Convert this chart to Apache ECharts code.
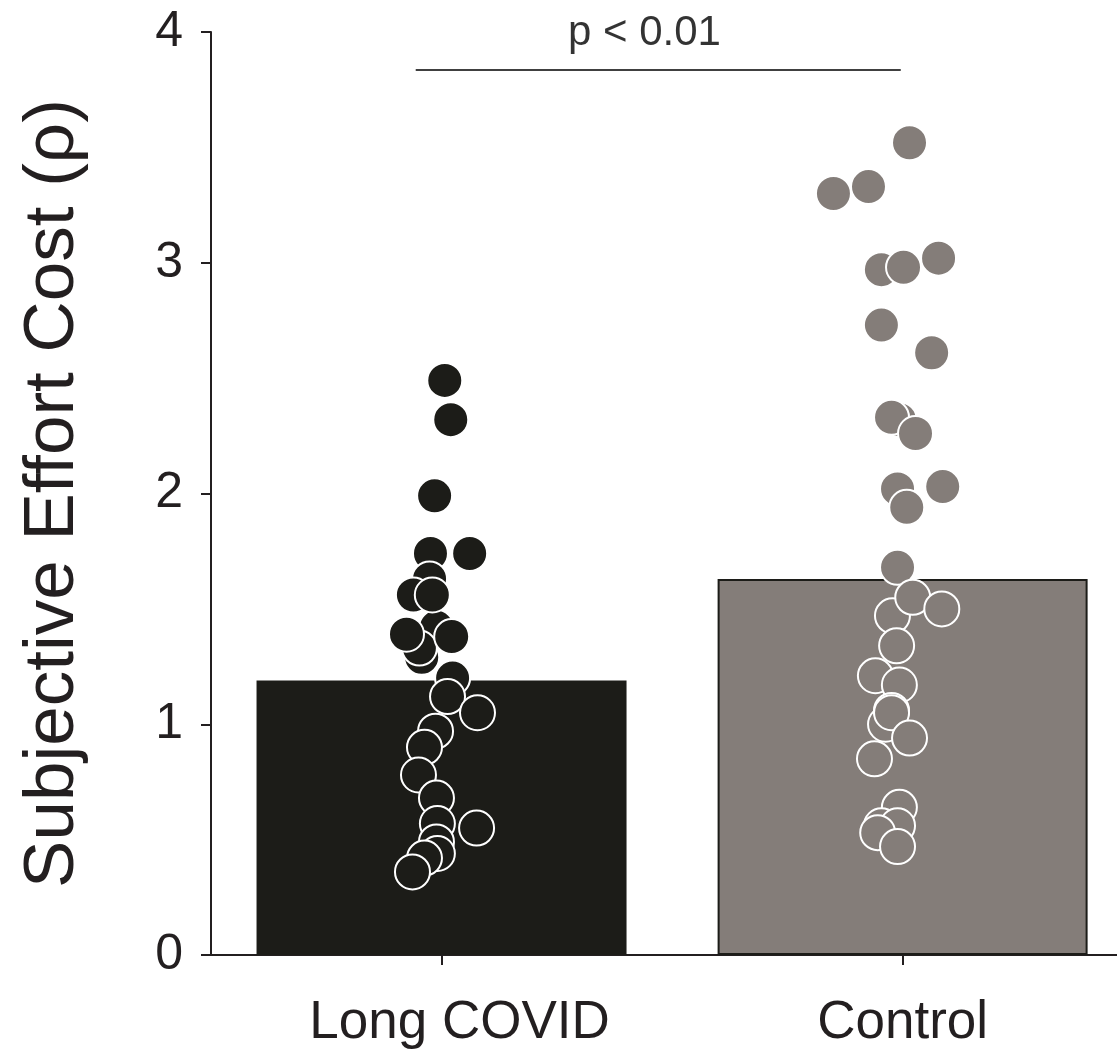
<!DOCTYPE html>
<html>
<head>
<meta charset="utf-8">
<script src="https://cdn.jsdelivr.net/npm/echarts@6/dist/echarts.min.js"></script>
<style>html,body{margin:0;padding:0;background:#fff}#c{width:1117px;height:1051px}</style>
</head>
<body>
<div id="c"></div>
<script>
// ---- data ----
var categories = ['Long COVID', 'Control'];
var categoryPos = [0, 1];
var barMeans = [1.19, 1.63];
var yTicks = [0, 1, 2, 3, 4];
// individual points: [x position on category scale (jitter), value]
var longCovidX = [0.007, 0.020, -0.015, -0.024, 0.061, -0.026, -0.011, -0.043, -0.048, -0.061, -0.020, -0.076, 0.022, 0.024, 0.013, 0.078, -0.013, -0.037, -0.050, -0.011, -0.009, 0.076, -0.011, -0.009, -0.037, -0.063];
var longCovidY = [2.49, 2.32, 1.99, 1.74, 1.74, 1.63, 1.42, 1.29, 1.33, 1.56, 1.56, 1.39, 1.38, 1.20, 1.12, 1.05, 0.97, 0.90, 0.78, 0.68, 0.57, 0.55, 0.49, 0.44, 0.42, 0.36];
var controlX = [1.015, 0.850, 0.926, 0.954, 1.002, 1.078, 0.954, 1.063, 0.993, 0.976, 1.028, 0.989, 1.009, 1.087, 0.989, 0.978, 1.022, 1.085, 0.987, 0.941, 0.993, 0.963, 0.976, 0.976, 1.015, 0.939, 0.993, 0.954, 0.989, 0.946, 0.989];
var controlY = [3.52, 3.30, 3.33, 2.97, 2.98, 3.02, 2.73, 2.61, 2.32, 2.33, 2.26, 2.02, 1.94, 2.03, 1.68, 1.47, 1.55, 1.50, 1.34, 1.21, 1.17, 1.00, 1.06, 1.05, 0.94, 0.85, 0.64, 0.56, 0.56, 0.53, 0.47];
var sigLineX = [-0.056, 0.996];
var sigLineY = 3.835;
var sigText = 'p < 0.01';
var sigTextX = 0.44;
var yTitle = 'Subjective Effort Cost (\u03c1)';

function pairs(xs, ys) { return xs.map(function (x, i) { return [x, ys[i]]; }); }

var FONT = '"Liberation Sans", Arial, sans-serif';
var TXT = '#231f20';
var chart = echarts.init(document.getElementById('c'), null, { renderer: 'canvas' });
chart.setOption({
  backgroundColor: '#ffffff',
  animation: false,
  grid: { left: 211, top: 32, right: 0, bottom: 96 },
  xAxis: {
    type: 'value', min: -0.5, max: 1.465,
    axisLine: { show: true, onZero: false, lineStyle: { color: TXT, width: 2 } },
    axisTick: { show: true, customValues: categoryPos, length: 10, lineStyle: { color: TXT, width: 2 } },
    axisLabel: {
      customValues: categoryPos, fontFamily: FONT, fontSize: 53, color: TXT, margin: 42,
      formatter: function (v) {
        var i = Math.round(v);
        return i === 0 ? '{s|' + categories[i] + '}' : categories[i];
      },
      rich: { s: { fontFamily: FONT, fontSize: 53, color: TXT, padding: [0, 0, 0, 36] } }
    },
    splitLine: { show: false }
  },
  yAxis: {
    type: 'value', min: yTicks[0], max: yTicks[yTicks.length - 1], interval: 1,
    name: yTitle, nameLocation: 'middle', nameGap: 122,
    nameTextStyle: { fontFamily: FONT, fontSize: 71, color: TXT },
    axisLine: { show: true, onZero: false, lineStyle: { color: TXT, width: 2 } },
    axisTick: { show: true, length: 10, lineStyle: { color: TXT, width: 2 } },
    axisLabel: { fontFamily: FONT, fontSize: 50, color: TXT, margin: 28 },
    splitLine: { show: false }
  },
  series: [{
    type: 'bar', barWidth: 370, z: 1,
    data: barMeans.map(function (v, i) {
      return { value: [categoryPos[i], v], itemStyle: { color: i === 0 ? '#1c1c18' : '#847d79', borderColor: '#1c1c18', borderWidth: 2 } };
    })
  }, {
    type: 'scatter', z: 3, symbolSize: 35,
    itemStyle: { color: '#1c1c18', borderColor: '#ffffff', borderWidth: 2, opacity: 1 },
    data: pairs(longCovidX, longCovidY)
  }, {
    type: 'scatter', z: 3, symbolSize: 35,
    itemStyle: { color: '#847d79', borderColor: '#ffffff', borderWidth: 2, opacity: 1 },
    data: pairs(controlX, controlY)
  }, {
    type: 'line', z: 4, symbol: 'none', silent: true,
    lineStyle: { color: '#000000', width: 1.5 },
    data: [[sigLineX[0], sigLineY], [sigLineX[1], sigLineY]]
  }, {
    type: 'scatter', z: 4, symbolSize: 0, silent: true,
    label: { show: true, position: 'top', distance: 16, formatter: sigText, fontFamily: FONT, fontSize: 42, color: '#000' },
    data: [[sigTextX, sigLineY]]
  }]
});
</script>
</body>
</html>
